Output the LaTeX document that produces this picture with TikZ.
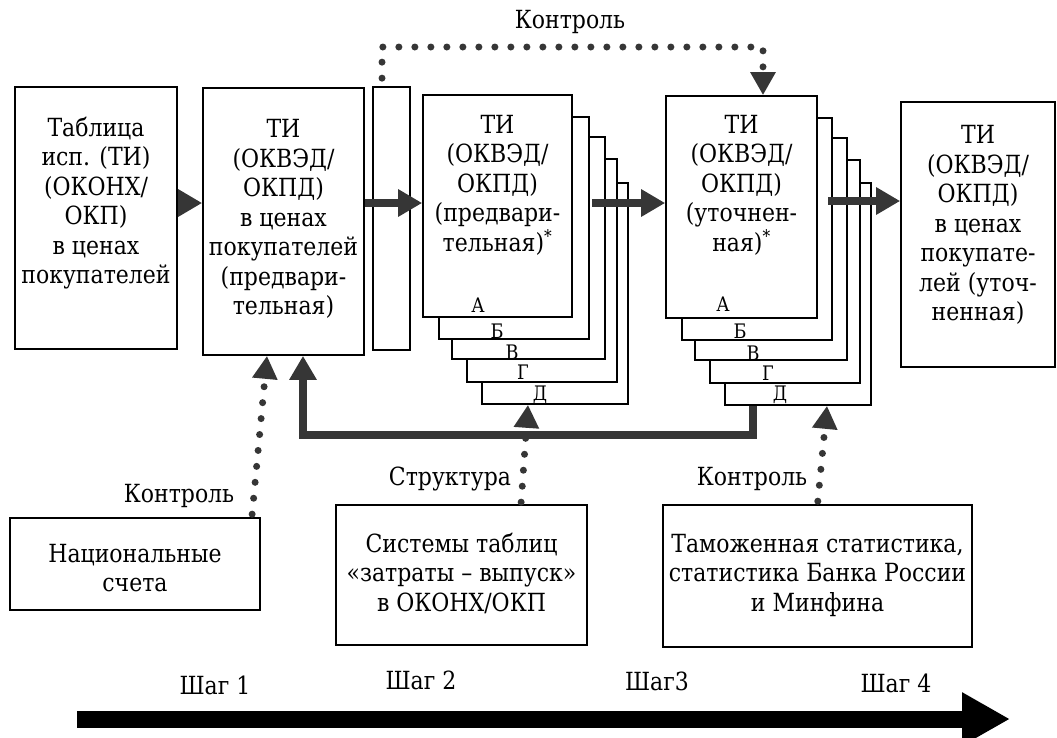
\documentclass[tikz,border=0pt]{standalone}
\usepackage{fontspec}
\setmainfont{DejaVu Serif}[FakeStretch=0.88]
\usetikzlibrary{arrows.meta,fit}
\definecolor{gc}{HTML}{363636}
\newcommand\fsz{\fontsize{25}{29.5}\selectfont}
\newcommand\fsm{\fontsize{20}{22}\selectfont}
\begin{document}
\begin{tikzpicture}[x=1pt,y=-1pt,
  box/.style={draw=black, line width=1.7pt, fill=white, inner sep=0pt},
  txt/.style={align=center, font=\fsz, inner sep=0pt},
  lett/.style={font=\fsm, inner sep=0pt},
  fat/.style={draw=gc, line width=8pt, -{Triangle[length=24pt,width=26pt]}},
  dots/.style={draw=gc, line width=7pt, line cap=round, dash pattern=on 0pt off 16pt, -{Triangle[length=23pt,width=24pt]}},
  timearrow/.style={draw=black, line width=17pt, -{Triangle[length=48pt,width=50pt]}}
]
\useasboundingbox (0,0) rectangle (1057,737);

% boxes
\node[box, fit={(15,87) (177,349)}] (b1) {};
\node[box, fit={(203,88) (364,355)}] (b2) {};
\node[box, fit={(373,87) (410,350)}] (nb) {};
% stack 1
\node[box, fit={(482,183) (628,404)}] (S1E) {};
\node[box, fit={(467,159) (617,382)}] (S1D) {};
\node[box, fit={(452,137) (605,359)}] (S1C) {};
\node[box, fit={(439,117) (589,339)}] (S1B) {};
\node[box, fit={(423,95) (572,317)}] (S1A) {};
% stack 2
\node[box, fit={(725,183) (871,405)}] (S2E) {};
\node[box, fit={(710,160) (860,383)}] (S2D) {};
\node[box, fit={(695,138) (847,360)}] (S2C) {};
\node[box, fit={(682,118) (832,340)}] (S2B) {};
\node[box, fit={(666,96) (817,318)}] (S2A) {};
% final
\node[box, fit={(901,102) (1055,367)}] (fin) {};
% bottom boxes
\node[box, fit={(10,518) (260,610)}] (nat) {};
\node[box, fit={(336,505) (587,645)}] (sys) {};
\node[box, fit={(663,505) (972,647)}] (cus) {};

% texts
\node[txt] (t1) at (96,203) {Таблица\\исп. (ТИ)\\(ОКОНХ/\\ОКП)\\в ценах\\покупателей};
\node[txt] (t2) at (283.5,219) {ТИ\\(ОКВЭД/\\ОКПД)\\в ценах\\покупателей\\(предвари-\\тельная)};
\node[txt] (t3) at (497.5,185) {ТИ\\(ОКВЭД/\\ОКПД)\\(предвари-\\тельная)\textsuperscript{*}};
\node[txt] (t4) at (741.5,185) {ТИ\\(ОКВЭД/\\ОКПД)\\(уточнен-\\ная)\textsuperscript{*}};
\node[txt] (t5) at (978,225) {ТИ\\(ОКВЭД/\\ОКПД)\\в ценах\\покупате-\\лей (уточ-\\ненная)};
\node[txt] (t6) at (135,568) {Национальные\\счета};
\node[txt] (t7) at (461.5,573) {Системы таблиц\\«затраты – выпуск»\\в ОКОНХ/ОКП};
\node[txt] (t8) at (817.5,575) {Таможенная статистика,\\статистика Банка России\\и Минфина};

% letters
\node[lett] (a1) at (478,305) {А};
\node[lett] (b1l) at (497,331) {Б};
\node[lett] (c1) at (512,352) {В};
\node[lett] (d1) at (523,372) {Г};
\node[lett] (e1) at (540,395) {Д};
\node[lett] (a2) at (723,304) {А};
\node[lett] (b2l) at (740,331) {Б};
\node[lett] (c2) at (753,353) {В};
\node[lett] (d2) at (768,373) {Г};
\node[lett] (e2) at (780,395) {Д};

% coordinates
\coordinate (ry) at (0,203);
\coordinate (ry2) at (0,201);
\coordinate (s1x) at (592,0);
\coordinate (s2x) at (828,0);
\coordinate (fbx) at (753,0);
\coordinate (fbl) at (303,0);
\coordinate (fby) at (0,435);
\coordinate (tx1) at (382,0);
\coordinate (tx2) at (763,0);
\coordinate (ty) at (0,47);

% main flow arrows
\draw[fat] (b1.east |- ry) -- (b2.west |- ry);
\draw[fat] (b2.east |- ry) -- (S1A.west |- ry);
\draw[fat] (s1x |- ry) -- (S2A.west |- ry);
\draw[fat] (s2x |- ry2) -- (fin.west |- ry2);
% feedback
\draw[fat] (S2E.south -| fbx) -- (fbx |- fby) -- (fbl |- fby) -- (b2.south -| fbl);

% dotted controls
\draw[dots, shorten <=8pt] (nb.north -| tx1) -- (tx1 |- ty) -- (tx2 |- ty) -- (S2A.north -| tx2);
\draw[dots, shorten <=3pt] ([xshift=-9pt]nat.north east) -- ([xshift=-16.5pt]b2.south);
\draw[dots, shorten <=2pt] ([xshift=59.5pt]sys.north) -- ([xshift=-27pt]S1E.south);
\draw[dots, shorten <=3pt] (cus.north) -- ([xshift=29pt]S2E.south);

% labels
\node[txt, anchor=base] (k0) at (570,28) {Контроль};
\node[txt, anchor=base] (k1) at (179,502) {Контроль};
\node[txt, anchor=base] (k2) at (450,485) {Структура};
\node[txt, anchor=base] (k3) at (752,485) {Контроль};

% steps
\node[txt, anchor=base] (st1) at (215,694) {Шаг 1};
\node[txt, anchor=base] (st2) at (421,689) {Шаг 2};
\node[txt, anchor=base] (st3) at (657,690) {Шаг3};
\node[txt, anchor=base] (st4) at (896,692) {Шаг 4};

\coordinate (ts) at (77,719);
\coordinate (te) at (1010,719);
\draw[timearrow] (ts) -- (te);
\end{tikzpicture}
\end{document}
